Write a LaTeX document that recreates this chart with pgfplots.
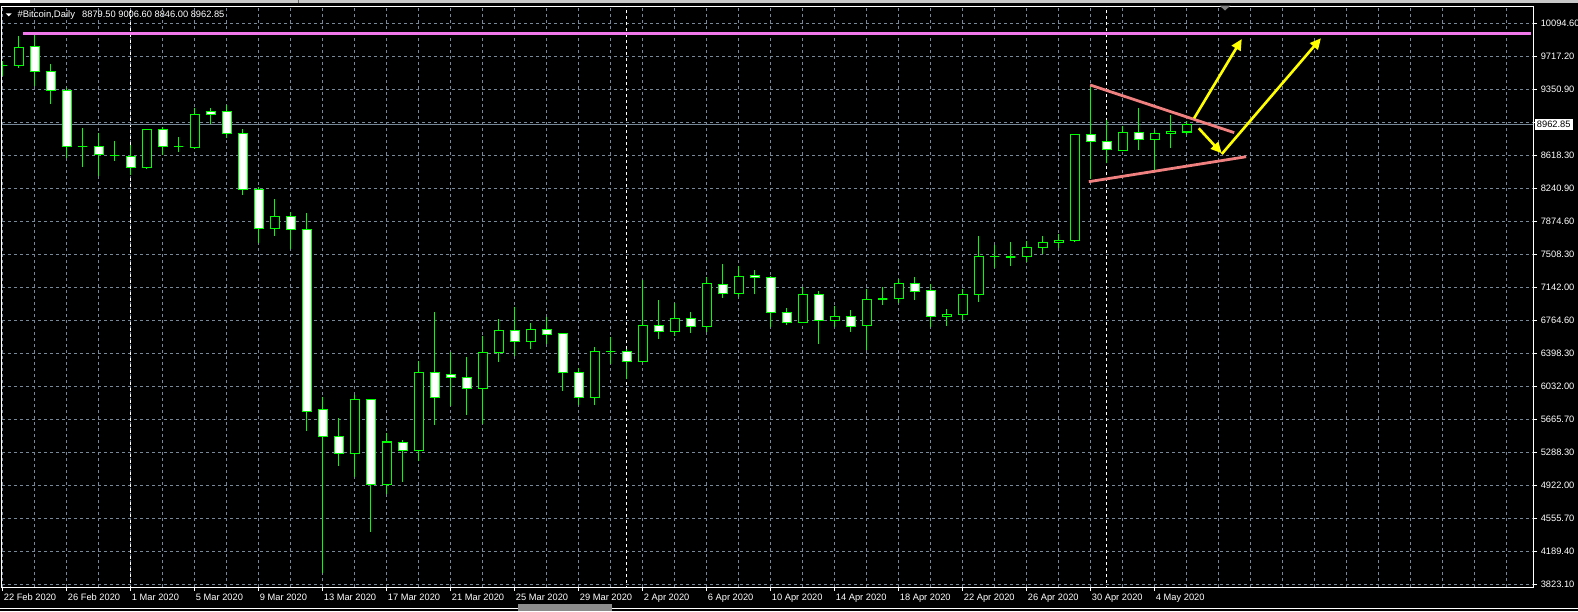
\documentclass[border=0pt]{standalone}
\usepackage{fontspec}
\setmainfont{Liberation Sans}
\usepackage{pgfplots}
\pgfplotsset{compat=1.18}
\usepackage{pgfplotstable}
\usetikzlibrary{arrows.meta}

\definecolor{cgreen}{RGB}{0,255,0}
\definecolor{gridgray}{RGB}{119,136,153}
\definecolor{pinkline}{RGB}{240,120,235}
\definecolor{salmonline}{RGB}{240,128,128}
\definecolor{arrowyellow}{RGB}{255,255,0}
\definecolor{bidgray}{RGB}{119,136,153}

% Daily OHLC, index 0 = 22 Feb 2020
\pgfplotstableread{
i O H L C
0 9620 9673 9509 9620
1 9620 9953 9598 9826
2 9837 9964 9390 9554
3 9558 9640 9196 9346
4 9346 9375 8585 8720
5 8720 8924 8488 8720
6 8720 8865 8384 8626
7 8614 8779 8559 8614
8 8608 8734 8399 8485
9 8485 8910 8469 8910
10 8910 8939 8622 8720
11 8715 8824 8659 8715
12 8708 9144 8693 9077
13 9111 9148 8966 9077
14 9111 9185 8809 8865
15 8865 8913 8178 8239
16 8239 8261 7642 7803
17 7803 8130 7720 7937
18 7937 7985 7575 7792
19 7792 7971 5540 5757
20 5779 5920 3946 5473
21 5478 5679 5149 5288
22 5288 5939 5026 5891
23 5891 5900 4411 4937
24 4937 5518 4829 5414
25 5411 5433 4970 5321
26 5321 6323 5205 6193
27 6193 6867 5607 5914
28 6171 6420 5820 6137
29 6137 6361 5719 6014
30 6014 6596 5619 6417
31 6412 6786 6312 6663
32 6663 6920 6372 6540
33 6540 6741 6457 6674
34 6674 6811 6509 6618
35 6629 6635 5987 6193
36 6193 6245 5831 5914
37 5914 6476 5831 6428
38 6428 6584 6286 6428
39 6428 6454 6118 6312
40 6312 7225 6305 6719
41 6719 7001 6569 6651
42 6651 6964 6599 6797
43 6797 6867 6636 6707
44 6707 7262 6647 7188
45 7177 7404 7027 7076
46 7076 7381 7038 7266
47 7277 7337 7065 7255
48 7255 7270 6703 6864
49 6864 6909 6725 6752
50 6752 7143 6745 7065
51 7065 7099 6513 6774
52 6774 6934 6703 6819
53 6819 6890 6647 6707
54 6714 7121 6439 7009
55 7013 7143 6945 7013
56 7016 7239 6971 7188
57 7188 7255 7001 7094
58 7110 7177 6703 6815
59 6819 6897 6714 6842
60 6837 7121 6774 7065
61 7065 7717 6982 7490
62 7485 7616 7362 7485
63 7482 7650 7380 7482
64 7485 7664 7426 7590
65 7586 7717 7516 7646
66 7642 7736 7579 7669
67 7669 8854 7646 8854
68 8854 9379 8354 8771
69 8775 9014 8530 8682
70 8670 8946 8665 8876
71 8876 9148 8682 8793
72 8793 8902 8455 8865
73 8860 9066 8704 8887
74 8879.50 9006.60 8846.00 8962.85
}\candles

\begin{document}
\begin{tikzpicture}
\useasboundingbox (0pt,0pt) rectangle (1578pt,-611pt);
\fill[black] (0pt,0pt) rectangle (1578pt,-611pt);
% window chrome
\fill[black!22] (0pt,0pt) rectangle (1578pt,-2.7pt);
\fill[white] (0pt,0pt) rectangle (30pt,-2.7pt);
\draw[black!60, line width=0.8pt] (298pt,0pt) -- (298pt,-2.7pt);
\draw[white, line width=1pt] (0pt,-608.5pt) -- (518pt,-608.5pt);
\draw[white, line width=1pt] (612pt,-608.5pt) -- (1578pt,-608.5pt);
\fill[black!45] (518pt,-604pt) rectangle (612pt,-611pt);

\begin{axis}[
  at={(2pt,-587pt)}, anchor=south west,
  scale only axis, width=1531pt, height=581pt,
  xmin=-0.04375, xmax=95.64375, ymin=3792.9, ymax=10287.9,
  axis line style={white, line width=1pt},
  tick align=outside, major tick length=4pt, minor tick length=0pt,
  tick style={white, line width=0.8pt},
  xtick pos=left, ytick pos=right,
  xtick={0,4,...,72},
  xticklabels={22 Feb 2020,26 Feb 2020,1 Mar 2020,5 Mar 2020,9 Mar 2020,13 Mar 2020,17 Mar 2020,21 Mar 2020,25 Mar 2020,29 Mar 2020,2 Apr 2020,6 Apr 2020,10 Apr 2020,14 Apr 2020,18 Apr 2020,22 Apr 2020,26 Apr 2020,30 Apr 2020,4 May 2020},
  minor xtick={2,6,10,14,18,22,26,30,34,38,42,46,50,54,58,62,66,70,74,76,78,80,82,84,86,88,90,92,94},
  ytick={3823.1,4192.01,4560.92,4929.84,5298.75,5667.66,6036.57,6405.48,6774.39,7143.31,7512.22,7881.13,8250.04,8618.95,8987.87,9356.78,9725.69,10094.6},
  yticklabels={3823.10,4189.40,4555.70,4922.00,5288.30,5665.70,6032.00,6398.30,6764.60,7142.00,7508.30,7874.60,8240.90,8618.30,{},9350.90,9717.20,10094.60},
  xmajorgrids=true, xminorgrids=true, ymajorgrids=true,
  grid style={gridgray, dash pattern=on 3pt off 3pt, line width=0.9pt},
  minor grid style={gridgray, dash pattern=on 3pt off 3pt, line width=0.9pt},
  xticklabel style={font=\fontsize{9.3}{10}\selectfont, text=white, anchor=north west, inner sep=0pt, xshift=1pt, yshift=-3pt},
  yticklabel style={font=\fontsize{9.3}{10}\selectfont, text=white, anchor=west, inner sep=0pt, xshift=3.5pt},
]
% period separators
\addplot[white, dash pattern=on 3pt off 3pt, line width=0.9pt, forget plot] coordinates {(8,3700) (8,10400)};
\addplot[white, dash pattern=on 3pt off 3pt, line width=0.9pt, forget plot] coordinates {(39,3700) (39,10400)};
\addplot[white, dash pattern=on 3pt off 3pt, line width=0.9pt, forget plot] coordinates {(69,3700) (69,10400)};
% bid line
\addplot[bidgray, line width=0.9pt, forget plot] coordinates {(-1,8962.85) (97,8962.85)};
% candles
\pgfplotsinvokeforeach{0,...,74}{
  \pgfplotstablegetelem{#1}{O}\of\candles \let\cO\pgfplotsretval
  \pgfplotstablegetelem{#1}{H}\of\candles \let\cH\pgfplotsretval
  \pgfplotstablegetelem{#1}{L}\of\candles \let\cL\pgfplotsretval
  \pgfplotstablegetelem{#1}{C}\of\candles \let\cC\pgfplotsretval
  \ifdim\cC pt<\cO pt \def\fc{white}\else\def\fc{black}\fi
  \pgfmathsetmacro\xl{#1-0.29}
  \pgfmathsetmacro\xr{#1+0.29}
  \edef\tmp{%
    \noexpand\addplot[cgreen, line width=1pt, forget plot] coordinates {(#1,\cL) (#1,\cH)};
    \noexpand\addplot[draw=cgreen, fill=\fc, line width=1.1pt, forget plot] coordinates {(\xl,\cO) (\xr,\cO) (\xr,\cC) (\xl,\cC)} --cycle;
  }\tmp
}
% drawn objects
\addplot[pinkline, line width=3pt, forget plot] coordinates {(1.29,9975) (95.5,9975)};
\addplot[salmonline, line width=2.8pt, forget plot] coordinates {(67.96,9405) (76.97,8872)};
\addplot[salmonline, line width=2.8pt, forget plot] coordinates {(67.88,8324) (77.71,8603)};
\addplot[arrowyellow, line width=2.6pt, -{Triangle[length=11pt,width=10pt]}, forget plot] coordinates {(74.46,9033) (77.44,9919)};
\addplot[arrowyellow, line width=2.6pt, -{Triangle[length=11pt,width=10pt]}, forget plot] coordinates {(74.75,8921) (76.19,8641)};
\addplot[arrowyellow, line width=2.6pt, -{Triangle[length=11pt,width=10pt]}, forget plot] coordinates {(76.19,8633) (82.39,9928)};
\end{axis}

% header and price marker
\fill[white] (5.7pt,-13.3pt) -- (11.7pt,-13.3pt) -- (8.7pt,-16.3pt) -- cycle;
\node[anchor=base west, inner sep=0pt, text=white, font=\fontsize{9.5}{10}\selectfont] at (17.3pt,-17.8pt) {\#Bitcoin,Daily};
\node[anchor=base west, inner sep=0pt, text=white, font=\fontsize{9.3}{10}\selectfont] at (82pt,-17.8pt) {8879.50 9006.60 8846.00 8962.85};
\node[anchor=west, fill=white, text=black, inner xsep=2pt, inner ysep=2pt, font=\fontsize{9.3}{10}\selectfont] at (1534.7pt,-124.6pt) {8962.85};
\fill[black!50] (1219.5pt,-5.5pt) -- (1230.5pt,-5.5pt) -- (1225pt,-10.5pt) -- cycle;
\end{tikzpicture}
\end{document}
